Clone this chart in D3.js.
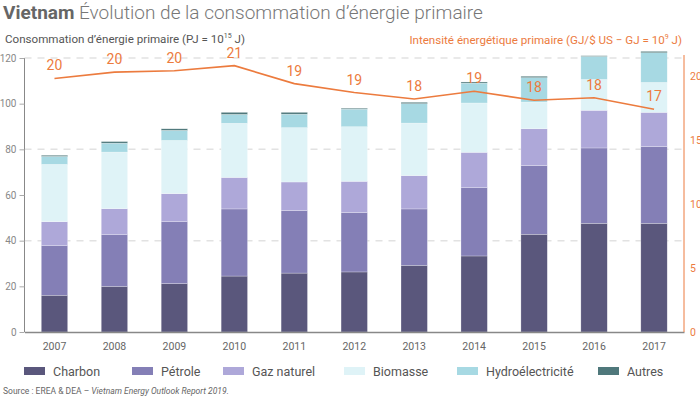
<!DOCTYPE html>
<html lang="fr">
<head>
    <meta charset="UTF-8">
    <script src="https://cdn.jsdelivr.net/npm/d3@7"></script>
    <title>Vietnam energie</title>
    <style>
        body { margin: 0; font-family: Roboto, Arial, sans-serif; background: #fff; }
        svg text { font-family: Roboto, Arial, sans-serif; }
    </style>
</head>
<body>
<div id="chart"></div>
<script>

    // data
    var years = ["2007", "2008", "2009", "2010", "2011", "2012", "2013", "2014", "2015", "2016", "2017"];
    var sources = ["Charbon", "Pétrole", "Gaz naturel", "Biomasse", "Hydroélectricité", "Autres"];
    var colors = ["#5a577c", "#847fb6", "#aea8d9", "#dff3f7", "#a7d9e3", "#4f787b"];

    var charbon    = [16.1, 20.0, 21.2, 24.5, 25.8, 26.3, 29.2, 33.3, 42.8, 47.6, 47.6];
    var petrole    = [21.7, 22.6, 27.1, 29.4, 27.4, 26.0, 24.7, 29.9, 30.1, 33.0, 33.6];
    var gaz        = [10.5, 11.4, 12.3, 13.8, 12.5, 13.7, 14.6, 15.5, 16.1, 16.5, 15.0];
    var biomasse   = [25.1, 24.8, 23.3, 23.7, 23.8, 23.9, 23.0, 21.6, 11.7, 13.5, 13.1];
    var hydro      = [3.5, 3.9, 4.4, 3.9, 5.9, 7.7, 8.5, 8.7, 10.7, 10.1, 13.0];
    var autres     = [0.5, 0.7, 0.7, 0.9, 0.8, 0.4, 0.6, 0.5, 0.6, 0.3, 0.6];

    var intensite  = [19.8, 20.3, 20.4, 20.8, 19.4, 18.7, 18.2, 18.8, 18.1, 18.3, 17.4];

    var leftTicks = [0, 20, 40, 60, 80, 100, 120];
    var gridTicks = [40, 80, 120];
    var rightTicks = [0, 5, 10, 15, 20];

    var series = [charbon, petrole, gaz, biomasse, hydro, autres];

    // plot box
    var width = 700, height = 397;
    var plot = {left: 24.5, right: 684, top: 58, bottom: 332};

    var svg = d3.select("#chart")
        .append("svg")
        .attr("width", width)
        .attr("height", height);

    // title
    var title = svg.append("text").attr("x", 3).attr("y", 19).style("font-size", "19px");
    title.append("tspan").attr("fill", "#666").style("font-weight", "bold").text("Vietnam");
    title.append("tspan").attr("fill", "#777").style("font-weight", "300").text(" Évolution de la consommation d’énergie primaire");

    var sub = svg.append("text").attr("x", 5).attr("y", 43)
        .attr("fill", "#555").style("font-size", "11.6px");
    sub.append("tspan").text("Consommation d’énergie primaire (PJ = 10");
    sub.append("tspan").attr("dy", -5).style("font-size", "7px").text("15");
    sub.append("tspan").attr("dy", 5).text(" J)");

    var sub2 = svg.append("text").attr("x", 682).attr("y", 44)
        .attr("text-anchor", "end")
        .attr("fill", "#ec7b3e").style("font-size", "11.6px");
    sub2.append("tspan").text("Intensité énergétique primaire (GJ/$ US − GJ = 10");
    sub2.append("tspan").attr("dy", -5).style("font-size", "7px").text("9");
    sub2.append("tspan").attr("dy", 5).text(" J)");

    // scales
    var x = d3.scaleBand()
        .domain(years)
        .range([plot.left, plot.right])
        .paddingInner(0.56)
        .paddingOuter(0.28);

    var y = d3.scaleLinear()
        .domain([0, 120])
        .range([plot.bottom, plot.top]);

    var y2 = d3.scaleLinear()
        .domain([0, 21.4])
        .range([plot.bottom, plot.top]);

    // dashed grid
    svg.append("g")
        .selectAll("line")
        .data(gridTicks)
        .enter().append("line")
        .attr("x1", plot.left).attr("x2", plot.right)
        .attr("y1", function(d) { return y(d); })
        .attr("y2", function(d) { return y(d); })
        .attr("stroke", "#e2e2e2")
        .attr("stroke-width", 1.5)
        .attr("stroke-dasharray", "7,6");

    // stacked bars
    var table = years.map(function(yr, i) {
        var row = { year: yr };
        sources.forEach(function(s, k) { row[s] = series[k][i]; });
        return row;
    });
    var stacked = d3.stack().keys(sources)(table);

    svg.append("g")
        .selectAll("g")
        .data(stacked)
        .enter().append("g")
        .attr("fill", function(d, i) { return colors[i]; })
        .selectAll("rect")
        .data(function(d) { return d; })
        .enter().append("rect")
        .attr("x", function(d) { return x(d.data.year); })
        .attr("y", function(d) { return y(d[1]); })
        .attr("height", function(d) { return y(d[0]) - y(d[1]); })
        .attr("width", x.bandwidth())
        .attr("stroke", "#fff")
        .attr("stroke-width", 0.5)
        .attr("stroke-opacity", 0.5);

    // left axis
    var yAxis = svg.append("g")
        .attr("transform", "translate(" + plot.left + ",0)")
        .call(d3.axisLeft(y).tickValues(leftTicks).tickSize(5).tickPadding(3));
    yAxis.select(".domain").attr("stroke", "#888").attr("d", "M0," + plot.top + "V" + plot.bottom);
    yAxis.selectAll(".tick line").attr("stroke", "#aaa");
    yAxis.selectAll("text").attr("fill", "#888").style("font-size", "10px");

    // bottom axis
    var xAxis = svg.append("g")
        .attr("transform", "translate(0," + plot.bottom + ")")
        .call(d3.axisBottom(x).tickSize(0).tickPadding(11));
    xAxis.select(".domain").attr("stroke", "#888").attr("stroke-width", 1.5);
    xAxis.selectAll("text").attr("fill", "#666").style("font-size", "10.5px");

    // right axis
    var y2Axis = svg.append("g")
        .attr("transform", "translate(" + plot.right + ",0)")
        .call(d3.axisRight(y2).tickValues(rightTicks).tickSize(0).tickPadding(6));
    y2Axis.select(".domain").attr("stroke", "#ec7b3e").attr("d", "M0," + (plot.top - 3) + "V" + plot.bottom);
    y2Axis.selectAll("text").attr("fill", "#ec7b3e").style("font-size", "10.5px");

    // intensity line
    var cx = function(d, i) { return x(years[i]) + x.bandwidth() / 2; };
    svg.append("path")
        .datum(intensite)
        .attr("fill", "none")
        .attr("stroke", "#ec7b3e")
        .attr("stroke-width", 1.6)
        .attr("d", d3.line()
            .x(cx)
            .y(function(d) { return y2(d); })
        );

    svg.append("g")
        .selectAll("text")
        .data(intensite)
        .enter().append("text")
        .attr("x", cx)
        .attr("y", function(d) { return y2(d) - 8; })
        .attr("text-anchor", "middle")
        .attr("fill", "#ec7b3e")
        .style("font-size", "14px")
        .text(function(d) { return Math.round(d); });

    // legend
    var legendX = [24, 132, 223, 344, 457, 598];
    var legend = svg.append("g")
        .selectAll("g")
        .data(sources)
        .enter().append("g")
        .attr("transform", function(d, i) { return "translate(" + legendX[i] + ",371)"; });
    legend.append("rect")
        .attr("x", 0).attr("y", -4)
        .attr("width", 21).attr("height", 8)
        .attr("fill", function(d, i) { return colors[i]; });
    legend.append("text")
        .attr("x", 29).attr("y", 4.5)
        .attr("fill", "#555")
        .style("font-size", "12.5px")
        .text(function(d) { return d; });

    // source
    var src = svg.append("text").attr("x", 3).attr("y", 394)
        .attr("fill", "#666").style("font-size", "8.5px");
    src.append("tspan").text("Source : EREA & DEA – ");
    src.append("tspan").style("font-style", "italic").text("Vietnam Energy Outlook Report 2019.");

</script>
</body>
</html>
